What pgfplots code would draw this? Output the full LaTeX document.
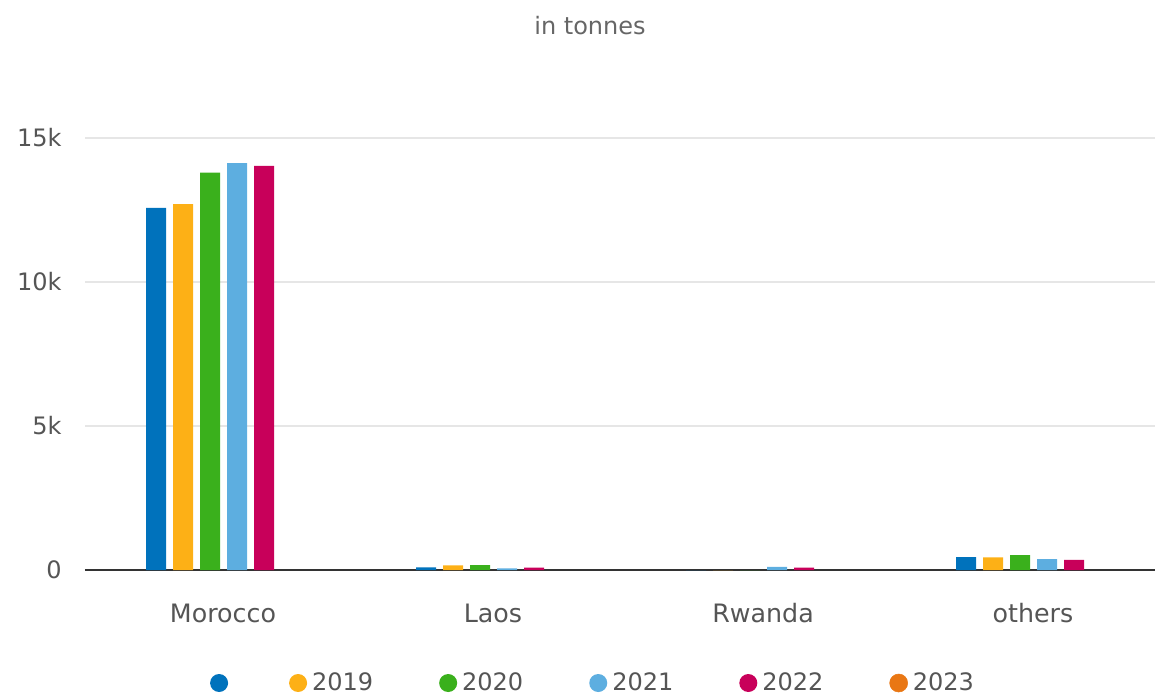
\documentclass[border=0pt]{standalone}
\usepackage{fontspec}
\setmainfont{DejaVu Sans}
\usepackage{pgfplots}
\pgfplotsset{compat=1.18}
\definecolor{cA}{RGB}{0,114,188}
\definecolor{cB}{RGB}{253,176,22}
\definecolor{cC}{RGB}{58,176,28}
\definecolor{cD}{RGB}{93,174,224}
\definecolor{cE}{RGB}{200,0,90}
\definecolor{cF}{RGB}{233,119,20}
\definecolor{txt}{RGB}{85,85,85}
\definecolor{ttl}{RGB}{102,102,102}
\definecolor{grd}{RGB}{230,230,230}
\definecolor{axl}{RGB}{51,51,51}
\newcommand\chartfont{\fontsize{18}{22}\selectfont}
\newcommand\catfont{\fontsize{19}{23}\selectfont}
\pgfplotsset{dotl/.style={legend image code/.code={\fill[#1] (6.75pt,0pt) circle (6.75pt);}}}
\begin{document}
\begin{tikzpicture}
\useasboundingbox (-63.75pt,-95.25pt) rectangle (808.5pt,427.5pt);
\begin{axis}[
  at={(0,0)}, anchor=south west,
  scale only axis, width=802.5pt, height=324pt,
  xmin=-0.463, xmax=3.5, ymin=0, ymax=15000,
  scaled y ticks=false,
  ybar=5.25pt, bar width=15pt,
  axis lines*=left,
  x axis line style={color=axl, line width=1pt},
  y axis line style={draw=none},
  ymajorgrids, grid style={color=grd, line width=1pt},
  ytick={0,5000,10000,15000}, yticklabels={0,5k,10k,15k},
  xtick={0,1,2,3}, xticklabels={Morocco,Laos,Rwanda,others},
  major tick length=0pt,
  tick label style={font=\chartfont, text=txt},
  xticklabel style={font=\catfont, anchor=base, yshift=-39pt, xshift=9.75pt},
  yticklabel style={xshift=-14pt},
  legend columns=6,
  legend style={at={(0.4703,-0.2616)}, anchor=center, draw=none, fill=none,
    font=\chartfont, text=txt,
    nodes={inner sep=1.75pt},
    /tikz/every odd column/.append style={column sep=2pt},
    /tikz/every even column/.append style={column sep=47.75pt}},
]
\addplot[fill=cA, draw=none, legend image code/.code={%
    \path[fill=none, draw=none] (0pt,-6.75pt) rectangle (13.5pt,6.75pt);
    \fill[cA, overlay] (14.25pt,0pt) circle (6.75pt);}]
  coordinates {(0,12570) (1,90) (2,0) (3,450)};
\addlegendentry{}
\addplot[fill=cB, draw=none, dotl=cB] coordinates {(0,12700) (1,160) (2,0) (3,440)};
\addlegendentry{2019}
\addplot[fill=cC, draw=none, dotl=cC] coordinates {(0,13800) (1,170) (2,0) (3,520)};
\addlegendentry{2020}
\addplot[fill=cD, draw=none, dotl=cD] coordinates {(0,14130) (1,60) (2,110) (3,380)};
\addlegendentry{2021}
\addplot[fill=cE, draw=none, dotl=cE] coordinates {(0,14030) (1,80) (2,80) (3,350)};
\addlegendentry{2022}
\addlegendimage{dotl=cF}
\addlegendentry{2023}
\end{axis}
\node[anchor=base, font=\chartfont, text=ttl] at (378.75pt,401.25pt) {in tonnes};
\end{tikzpicture}
\end{document}
